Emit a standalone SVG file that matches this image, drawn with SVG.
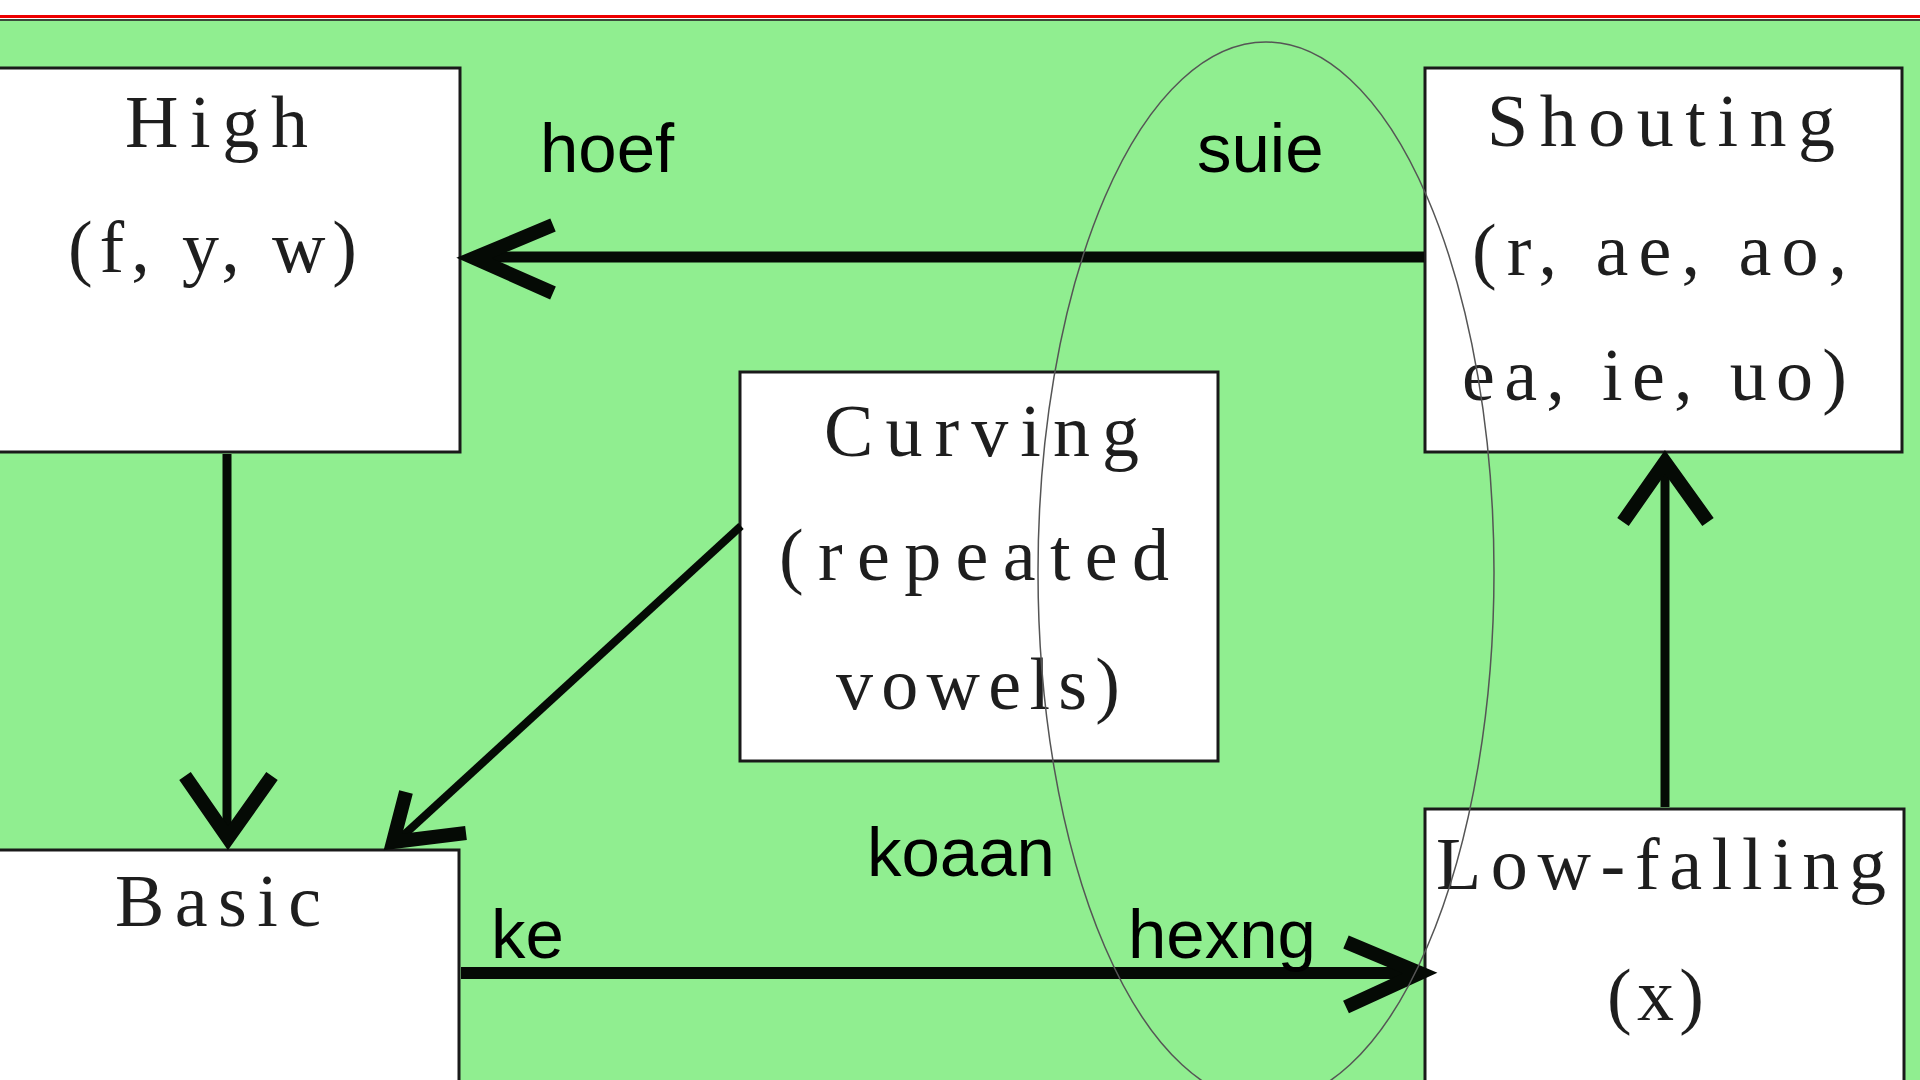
<svg xmlns="http://www.w3.org/2000/svg" width="1920" height="1080" viewBox="0 0 1920 1080">
<style>
.node rect{fill:#ffffff;stroke:#1a1a1a;stroke-width:3}
.nt{font-family:"Liberation Serif","Times New Roman",serif;font-size:74px;fill:#1e1e1e;text-anchor:start}
.lbl{font-family:"Liberation Sans",Arial,sans-serif;font-size:69px;fill:#000000}
.ln{stroke:#050a05;fill:none;stroke-linecap:butt}
.head{stroke:#050a05;fill:none;stroke-width:14;stroke-linecap:butt;stroke-linejoin:miter}
</style>
<rect x="0" y="0" width="1920" height="1080" fill="#ffffff"/>
<rect x="0" y="20" width="1920" height="1060" fill="#90ee90"/>
<line x1="0" y1="16.5" x2="1920" y2="16.5" stroke="#ee0000" stroke-width="3"/>
<line x1="0" y1="20" x2="1920" y2="20" stroke="#3a4a3a" stroke-width="2"/>

<g id="node-high" class="node">
<rect x="-10" y="68" width="470" height="384"/>
<text class="nt" x="125" y="147" textLength="183" lengthAdjust="spacing">High</text>
<text class="nt" x="68" y="272" textLength="289" lengthAdjust="spacing">(f, y, w)</text>
</g>
<g id="node-shouting" class="node">
<rect x="1425" y="68" width="477" height="384"/>
<text class="nt" x="1487" y="146" textLength="348" lengthAdjust="spacing">Shouting</text>
<text class="nt" x="1472" y="275" textLength="375" lengthAdjust="spacing">(r, ae, ao,</text>
<text class="nt" x="1462" y="400" textLength="385" lengthAdjust="spacing">ea, ie, uo)</text>
</g>
<g id="node-curving" class="node">
<rect x="740" y="372" width="478" height="389"/>
<text class="nt" x="824" y="456" textLength="315" lengthAdjust="spacing">Curving</text>
<text class="nt" x="779" y="580" textLength="390" lengthAdjust="spacing">(repeated</text>
<text class="nt" x="836" y="709" textLength="284" lengthAdjust="spacing">vowels)</text>
</g>
<g id="node-basic" class="node">
<rect x="-10" y="850" width="469" height="250"/>
<text class="nt" x="115" y="926" textLength="206" lengthAdjust="spacing">Basic</text>
</g>
<g id="node-lowfalling" class="node">
<rect x="1425" y="809" width="479" height="300"/>
<text class="nt" x="1436" y="889" textLength="450" lengthAdjust="spacing">Low-falling</text>
<text class="nt" x="1607" y="1020" textLength="97" lengthAdjust="spacing">(x)</text>
</g>

<g id="connectors">
<line class="ln" x1="1424" y1="257" x2="474" y2="257" stroke-width="11"/>
<polyline class="head" points="553,225 474,258 553,293"/>
<line class="ln" x1="227" y1="454" x2="227" y2="840" stroke-width="9"/>
<polyline class="head" points="185,776 228,838 272,776"/>
<line class="ln" x1="741" y1="526" x2="394" y2="844" stroke-width="8"/>
<polyline class="head" points="406,792 393,842 466,833"/>
<line class="ln" x1="461" y1="973" x2="1420" y2="973" stroke-width="12"/>
<polyline class="head" points="1346,942 1420,973 1346,1007"/>
<line class="ln" x1="1665" y1="807" x2="1665" y2="465" stroke-width="9"/>
<polyline class="head" points="1623,522 1665,462 1708,522"/>
</g>

<g id="labels">
<text class="lbl" x="540" y="172">hoef</text>
<text class="lbl" x="1197" y="172">suie</text>
<text class="lbl" x="867" y="876">koaan</text>
<text class="lbl" x="1128" y="958">hexng</text>
<text class="lbl" x="491" y="958">ke</text>
</g>

<g id="ellipse">
<ellipse cx="1266" cy="572" rx="228" ry="530" fill="none" stroke="#555555" stroke-width="1.5"/>
</g>
</svg>
